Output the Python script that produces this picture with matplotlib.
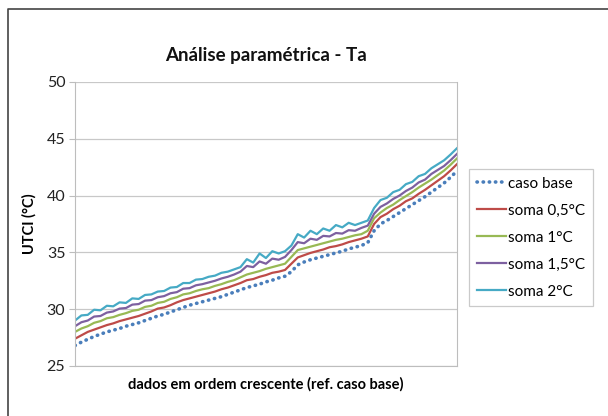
import numpy as np
import matplotlib
matplotlib.use("Agg")
import matplotlib.pyplot as plt
from matplotlib.lines import Line2D

plt.rcParams['font.family'] = ['Lato', 'DejaVu Sans']

# UTCI values (°C), sorted by the base case
caso_base = [26.8, 27.1, 27.35, 27.6, 27.8, 28.0, 28.15, 28.3, 28.5, 28.65,
             28.8, 29.0, 29.2, 29.4, 29.55, 29.75, 29.95, 30.15, 30.35, 30.5,
             30.65, 30.8, 30.95, 31.1, 31.3, 31.5, 31.7, 31.9, 32.05, 32.2,
             32.4, 32.55, 32.75, 32.9, 33.3, 33.9, 34.15, 34.35, 34.5, 34.65,
             34.8, 34.95, 35.1, 35.3, 35.45, 35.6, 35.85, 36.9, 37.5, 37.8,
             38.15, 38.5, 38.85, 39.2, 39.55, 39.9, 40.3, 40.7, 41.1, 41.6, 42.15]
soma_05 = [27.4, 27.7, 28.0, 28.2, 28.4, 28.6, 28.75, 28.95, 29.1, 29.25,
           29.4, 29.6, 29.8, 30.05, 30.15, 30.35, 30.6, 30.8, 30.95, 31.1,
           31.25, 31.4, 31.55, 31.75, 31.9, 32.1, 32.3, 32.55, 32.65, 32.85,
           33.0, 33.2, 33.3, 33.45, 34.0, 34.55, 34.75, 34.95, 35.1, 35.25,
           35.45, 35.55, 35.7, 35.9, 36.05, 36.2, 36.4, 37.5, 38.1, 38.4,
           38.8, 39.1, 39.5, 39.75, 40.15, 40.5, 40.9, 41.3, 41.7, 42.2, 42.75]
soma_1 = [28.0, 28.3, 28.5, 28.8, 28.95, 29.2, 29.3, 29.5, 29.65, 29.85,
          29.95, 30.2, 30.3, 30.55, 30.65, 30.9, 31.05, 31.3, 31.4, 31.6,
          31.75, 31.85, 32.05, 32.2, 32.4, 32.55, 32.8, 33.05, 33.2, 33.35,
          33.55, 33.7, 33.85, 34.0, 34.6, 35.2, 35.35, 35.5, 35.65, 35.8,
          35.95, 36.1, 36.2, 36.35, 36.5, 36.6, 36.9, 38.0, 38.5, 38.9,
          39.2, 39.6, 39.95, 40.3, 40.7, 41.05, 41.4, 41.8, 42.2, 42.7, 43.25]
soma_15 = [28.5, 28.85, 29.0, 29.35, 29.4, 29.7, 29.8, 30.05, 30.1, 30.4,
           30.45, 30.75, 30.8, 31.05, 31.15, 31.4, 31.5, 31.8, 31.85, 32.1,
           32.2, 32.35, 32.5, 32.7, 32.85, 33.05, 33.3, 33.8, 33.7, 34.2,
           34.0, 34.45, 34.35, 34.6, 35.2, 35.9, 35.8, 36.2, 36.1, 36.45,
           36.4, 36.7, 36.65, 36.95, 36.9, 37.15, 37.35, 38.4, 39.0, 39.3,
           39.7, 40.0, 40.4, 40.7, 41.15, 41.4, 41.9, 42.25, 42.6, 43.1, 43.65]
soma_2 = [29.0, 29.45, 29.5, 29.95, 29.9, 30.3, 30.25, 30.6, 30.55, 30.95,
          30.9, 31.25, 31.3, 31.55, 31.6, 31.9, 31.95, 32.3, 32.3, 32.6,
          32.65, 32.85, 32.95, 33.2, 33.3, 33.5, 33.7, 34.4, 34.1, 34.9,
          34.5, 35.1, 34.9, 35.1, 35.6, 36.6, 36.3, 36.9, 36.6, 37.1,
          36.9, 37.4, 37.2, 37.6, 37.4, 37.6, 37.8, 38.9, 39.6, 39.8,
          40.3, 40.5, 41.0, 41.2, 41.7, 41.9, 42.4, 42.75, 43.1, 43.6, 44.15]

labels = ['caso base', 'soma 0,5°C', 'soma 1°C', 'soma 1,5°C', 'soma 2°C']
colors = ['#4a7ebb', '#be4b48', '#98b954', '#7d60a0', '#46aac5']

fig = plt.figure(figsize=(6.08, 4.16), dpi=100)
ax = fig.add_axes([0.1234, 0.1202, 0.628, 0.683])

x = np.arange(len(caso_base))
series = [soma_05, soma_1, soma_15, soma_2]
for s, c in zip(series, colors[1:]):
    ax.plot(x, s, color=c, lw=1.6)
ax.plot(x, caso_base, color=colors[0], lw=2.6, linestyle=(0, (0.1, 1.6)),
        dash_capstyle='round')

ax.set_xlim(0, len(caso_base) - 1)
ax.set_ylim(25, 50)
ax.set_yticks([25, 30, 35, 40, 45, 50])
ax.set_xticks([])
ax.yaxis.grid(True, color='#c8c8c8', lw=0.9)
ax.set_axisbelow(True)
for sp in ['left', 'right', 'bottom', 'top']:
    ax.spines[sp].set_color('#bdbdbd')
ax.spines['top'].set_visible(False)
ax.tick_params(axis='y', length=4, color='#bdbdbd', labelsize=11.5, pad=3,
               labelcolor='#222222')

ax.set_title('Análise paramétrica - Ta', fontsize=13.5, fontweight='bold',
             pad=15, color='#111111')
ax.set_ylabel('UTCI (°C)', fontsize=10.5, fontweight='bold', labelpad=7)
ax.set_xlabel('dados em ordem crescente (ref. caso base)', fontsize=10.5,
              fontweight='bold', labelpad=8)

handles = [Line2D([], [], color=colors[0], lw=2.6, linestyle=(0, (0.1, 1.6)),
                  dash_capstyle='round')]
handles += [Line2D([], [], color=c, lw=1.6) for c in colors[1:]]
leg = fig.legend(handles, labels, loc='upper left',
                 bbox_to_anchor=(469 / 608, 1 - 169 / 416), fontsize=11,
                 frameon=True, fancybox=False, handlelength=1.9,
                 handletextpad=0.15, labelspacing=0.85, borderpad=0.5,
                 borderaxespad=0)
leg.get_frame().set_edgecolor('#bdbdbd')
leg.get_frame().set_linewidth(0.9)

# outer chart border
fig.add_artist(Line2D([8 / 608, 8 / 608, 1.0], [0.0, 1 - 9 / 416, 1 - 9 / 416],
                      color='#444444', lw=1.2))

fig.savefig('out.png', dpi=100)
